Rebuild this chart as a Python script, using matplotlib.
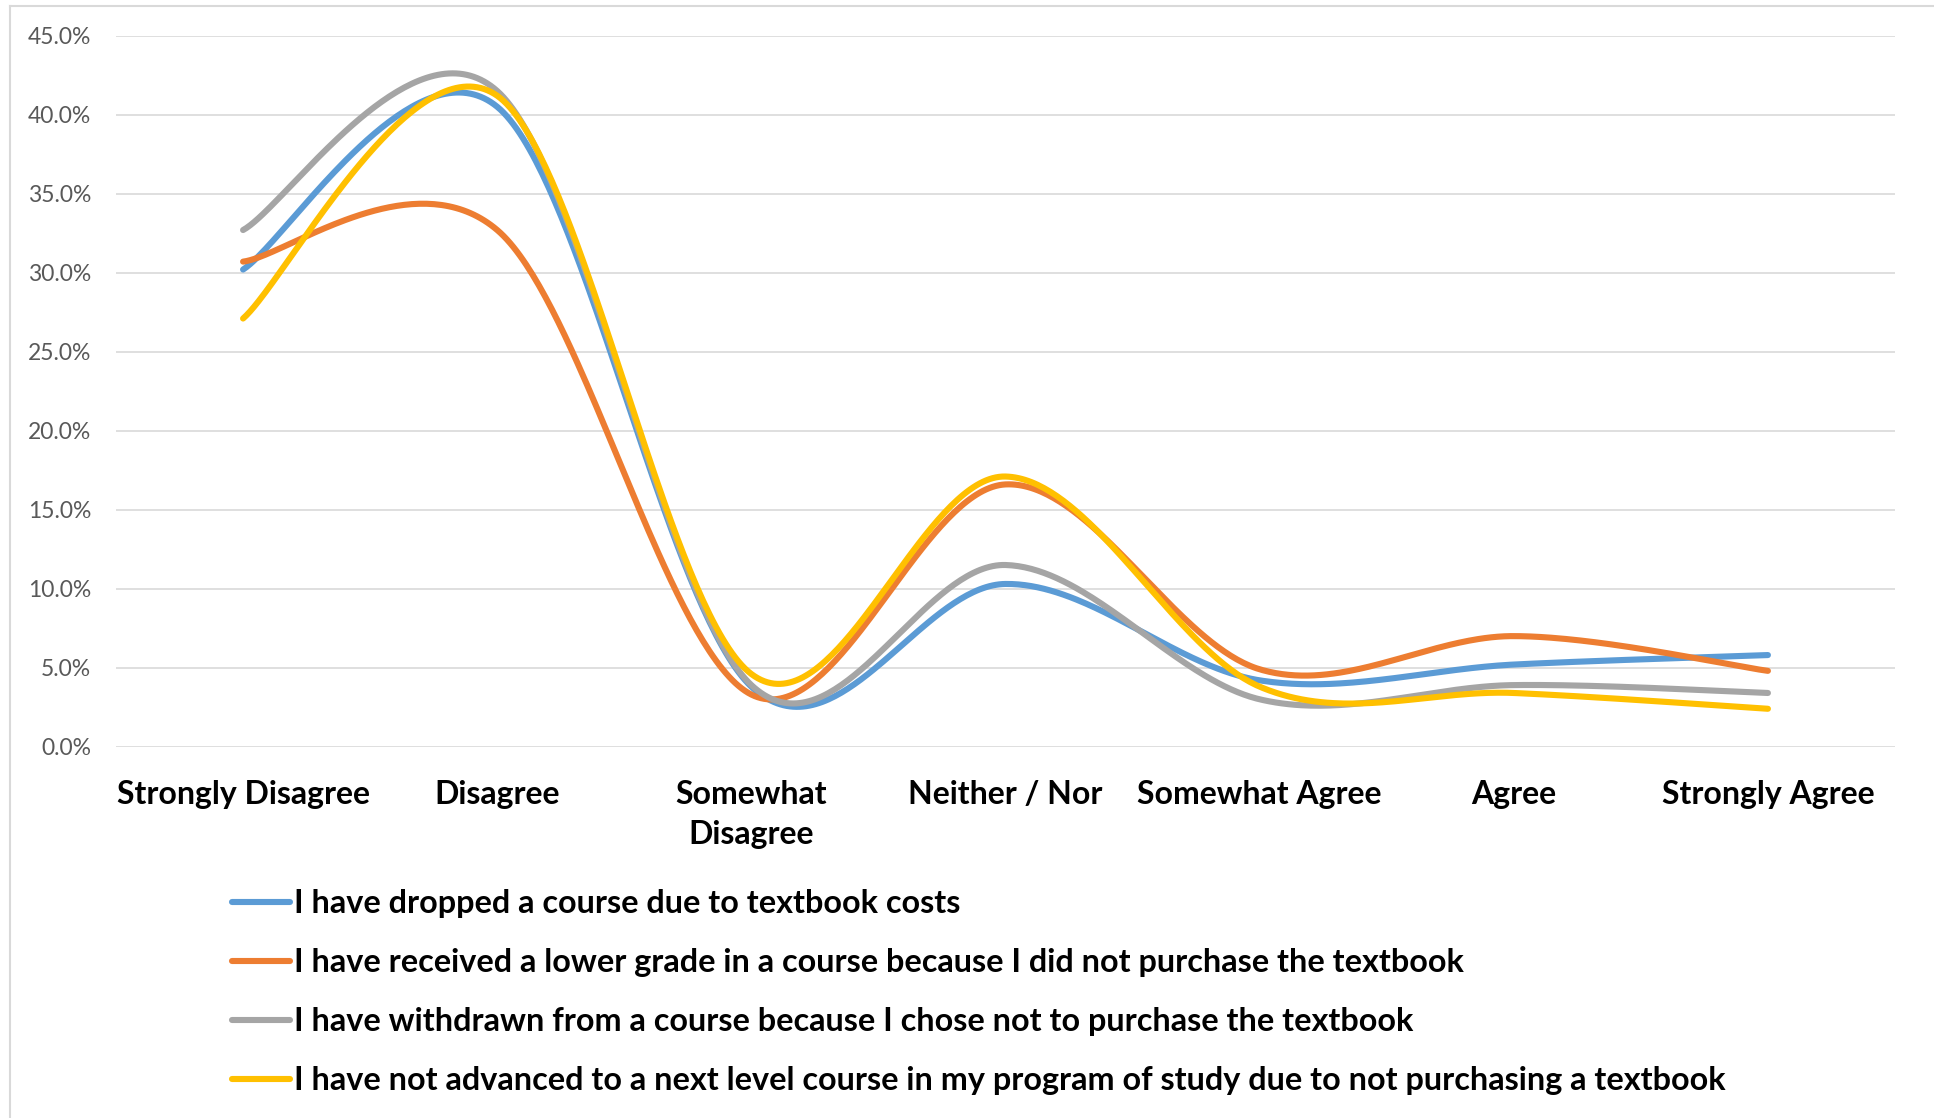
import numpy as np
import matplotlib
matplotlib.use("Agg")
import matplotlib.pyplot as plt
from matplotlib.lines import Line2D
from matplotlib.ticker import FuncFormatter

categories = ["Strongly Disagree", "Disagree", "Somewhat\nDisagree", "Neither / Nor",
              "Somewhat Agree", "Agree", "Strongly Agree"]

dropped = [30.2, 40.5, 3.8, 10.3, 4.2, 5.2, 5.8]
lower_grade = [30.7, 32.7, 3.3, 16.6, 4.9, 7.0, 4.8]
withdrawn = [32.7, 41.5, 3.9, 11.5, 3.0, 3.9, 3.4]
not_advanced = [27.1, 41.2, 4.6, 17.1, 3.8, 3.4, 2.4]

labels = ["I have dropped a course due to textbook costs",
          "I have received a lower grade in a course because I did not purchase the textbook",
          "I have withdrawn from a course because I chose not to purchase the textbook",
          "I have not advanced to a next level course in my program of study due to not purchasing a textbook"]
colors = ["#5B9BD5", "#ED7D31", "#A5A5A5", "#FFC000"]


def smooth(y, n=80):
    # bezier smoothing like a spreadsheet "smoothed line"
    y = np.asarray(y, float)
    x = np.arange(len(y), dtype=float)
    px = np.concatenate([[x[0]], x, [x[-1]]])
    py = np.concatenate([[y[0]], y, [y[-1]]])
    t = np.linspace(0, 1, n)
    xs, ys = [], []
    for i in range(len(y) - 1):
        out = []
        for p in (px, py):
            p0, p1, p2, p3 = p[i], p[i + 1], p[i + 2], p[i + 3]
            c1 = p1 + (p2 - p0) / 6
            c2 = p2 - (p3 - p1) / 6
            out.append((1 - t) ** 3 * p1 + 3 * (1 - t) ** 2 * t * c1
                       + 3 * (1 - t) * t ** 2 * c2 + t ** 3 * p2)
        xs.append(out[0])
        ys.append(out[1])
    return np.concatenate(xs), np.concatenate(ys)


plt.rcParams['font.family'] = ['Lato', 'DejaVu Sans']
fig = plt.figure(figsize=(19.34, 11.18), dpi=100)
ax = fig.add_axes([116 / 1934, 1 - 746.7 / 1118, (1895 - 116) / 1934, (746.7 - 35.7) / 1118])

for vals, lab, col in zip([dropped, lower_grade, withdrawn, not_advanced], labels, colors):
    sx, sy = smooth(vals)
    ax.plot(sx, sy, color=col, lw=4.4, solid_capstyle='round', label=lab)

ax.set_xlim(-0.5, len(categories) - 0.5)
ax.set_ylim(0, 45)
ax.set_yticks(np.arange(0, 46, 5))
ax.yaxis.set_major_formatter(FuncFormatter(lambda v, p: f"{v:.1f}%"))
ax.set_xticks(range(len(categories)))
ax.set_xticklabels(categories, fontsize=23, fontweight='bold', color='black', linespacing=1.45)
ax.tick_params(axis='x', length=0, pad=24)
ax.tick_params(axis='y', length=0, pad=18, labelsize=16.5, labelcolor='#595959')
ax.grid(axis='y', color='#D9D9D9', lw=1.2)
ax.set_axisbelow(True)
for s in ax.spines.values():
    s.set_visible(False)

fig.legend(loc='upper left', bbox_to_anchor=(232 / 1934, 1 - 889 / 1118), frameon=False,
           prop={'size': 23.3, 'weight': 'bold'}, handlelength=1.8, handletextpad=0.13,
           labelspacing=0.93, borderpad=0, borderaxespad=0)

# chart frame
fig.add_artist(Line2D([10 / 1934, 10 / 1934], [0, 1 - 6 / 1118], color='#D9D9D9', lw=1.5))
fig.add_artist(Line2D([10 / 1934, 1], [1 - 6 / 1118, 1 - 6 / 1118], color='#D9D9D9', lw=1.5))

fig.savefig("out.png", dpi=100)
